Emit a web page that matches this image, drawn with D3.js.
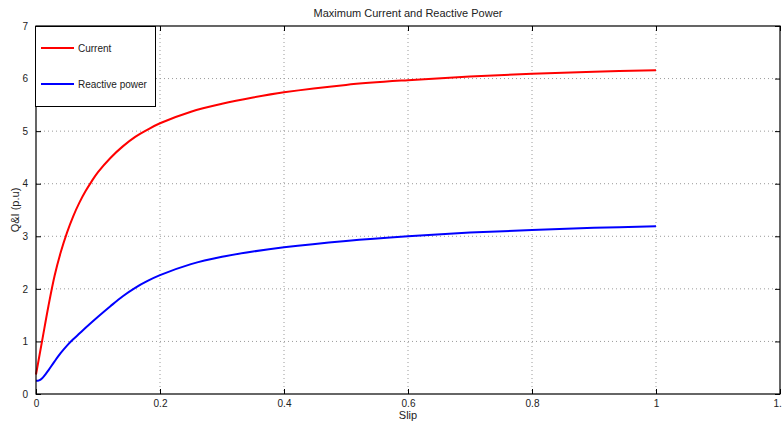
<!DOCTYPE html>
<html><head><meta charset="utf-8">
<script src="https://cdn.jsdelivr.net/npm/d3@7"></script>
<style>body{margin:0;background:#fff}svg{display:block}text{font-family:"Liberation Sans",Arial,Helvetica,sans-serif;fill:#222}</style>
</head><body>
<svg id="c" width="782" height="424"></svg>
<script>
const slip = [0,0.01,0.02,0.03,0.04,0.05,0.06,0.07,0.08,0.09,0.10,0.12,0.14,0.16,0.18,0.20,0.25,0.30,0.35,0.40,0.50,0.60,0.70,0.80,0.90,1.00];
const current = [0.37,1.02,1.67,2.25,2.70,3.07,3.38,3.64,3.86,4.05,4.22,4.49,4.71,4.89,5.03,5.15,5.37,5.52,5.64,5.74,5.88,5.97,6.04,6.09,6.13,6.16];
const slipQ = [0,0.005,0.01,0.015,0.02,0.03,0.04,0.05,0.06,0.07,0.08,0.10,0.12,0.14,0.16,0.18,0.20,0.25,0.30,0.35,0.40,0.50,0.60,0.70,0.80,0.90,1.00];
const reactive = [0.25,0.26,0.30,0.37,0.45,0.62,0.78,0.92,1.04,1.15,1.26,1.47,1.67,1.86,2.02,2.15,2.26,2.47,2.61,2.71,2.79,2.91,3.00,3.07,3.12,3.16,3.19];
const xTicks = [0,0.2,0.4,0.6,0.8,1,1.2];
const xTickLabels = ["0","0.2","0.4","0.6","0.8","1","1.2"];
const yTicks = [0,1,2,3,4,5,6,7];
const series = [
  {name:"Current", x:slip, y:current, color:"#ff0000"},
  {name:"Reactive power", x:slipQ, y:reactive, color:"#0000ff"}
];

const svg = d3.select("#c");
const L=36, R=780, T=26, B=394;
const x = d3.scaleLinear().domain([0,1.2]).range([L,R]);
const y = d3.scaleLinear().domain([0,7]).range([B,T]);

// grid
const g = svg.append("g");
g.selectAll(".gx").data(xTicks.slice(1,-1)).enter().append("line")
  .attr("x1",d=>x(d)).attr("x2",d=>x(d)).attr("y1",T).attr("y2",B)
  .attr("stroke","#9a9a9a").attr("stroke-width",1).attr("stroke-dasharray","1,3");
g.selectAll(".gy").data(yTicks.slice(1,-1)).enter().append("line")
  .attr("y1",d=>y(d)).attr("y2",d=>y(d)).attr("x1",L).attr("x2",R)
  .attr("stroke","#9a9a9a").attr("stroke-width",1).attr("stroke-dasharray","1,3");

// curves
const line = d3.line().curve(d3.curveCatmullRom.alpha(0.5));
series.forEach(s=>{
  svg.append("path").attr("d", line(s.x.map((v,i)=>[x(v), y(s.y[i])])))
    .attr("fill","none").attr("stroke",s.color).attr("stroke-width",2);
});

// axes (ticks inside)
const ax = svg.append("g");
ax.append("g").attr("transform",`translate(0,${B})`)
  .call(d3.axisBottom(x).tickValues(xTicks).tickFormat((d,i)=>xTickLabels[i]).tickSizeInner(-5).tickSizeOuter(0).tickPadding(6));
ax.append("g").attr("transform",`translate(0,${T})`)
  .call(d3.axisTop(x).tickValues(xTicks).tickFormat("").tickSizeInner(-5).tickSizeOuter(0));
ax.append("g").attr("transform",`translate(${L},0)`)
  .call(d3.axisLeft(y).tickValues(yTicks).tickFormat(d3.format("d")).tickSizeInner(-5).tickSizeOuter(0).tickPadding(8));
ax.append("g").attr("transform",`translate(${R},0)`)
  .call(d3.axisRight(y).tickValues(yTicks).tickFormat("").tickSizeInner(-5).tickSizeOuter(0));
ax.selectAll(".domain").remove();
ax.selectAll(".tick line").attr("stroke","#000");
ax.selectAll("text").attr("font-size","10px").attr("fill","#222");
svg.append("rect").attr("x",L).attr("y",T).attr("width",R-L).attr("height",B-T)
  .attr("fill","none").attr("stroke","#000").attr("stroke-width",1.2);

// labels
svg.append("text").attr("x",(L+R)/2).attr("y",17).attr("text-anchor","middle").attr("font-size","11px").text("Maximum Current and Reactive Power");
svg.append("text").attr("x",(L+R)/2).attr("y",419).attr("text-anchor","middle").attr("font-size","11px").text("Slip");
svg.append("text").attr("transform",`translate(19,${(T+B)/2}) rotate(-90)`).attr("text-anchor","middle").attr("font-size","11px").text("Q&I (p.u)");

// legend
const lg = svg.append("g");
lg.append("rect").attr("x",35.5).attr("y",26.5).attr("width",120).attr("height",80)
  .attr("fill","#fff").attr("stroke","#000").attr("stroke-width",1);
series.forEach((s,i)=>{
  const yy = 48 + i*36;
  lg.append("line").attr("x1",41).attr("x2",74).attr("y1",yy).attr("y2",yy).attr("stroke",s.color).attr("stroke-width",2);
  lg.append("text").attr("x",78).attr("y",yy+3.5).attr("font-size","10px").text(s.name);
});
</script>
</body></html>
